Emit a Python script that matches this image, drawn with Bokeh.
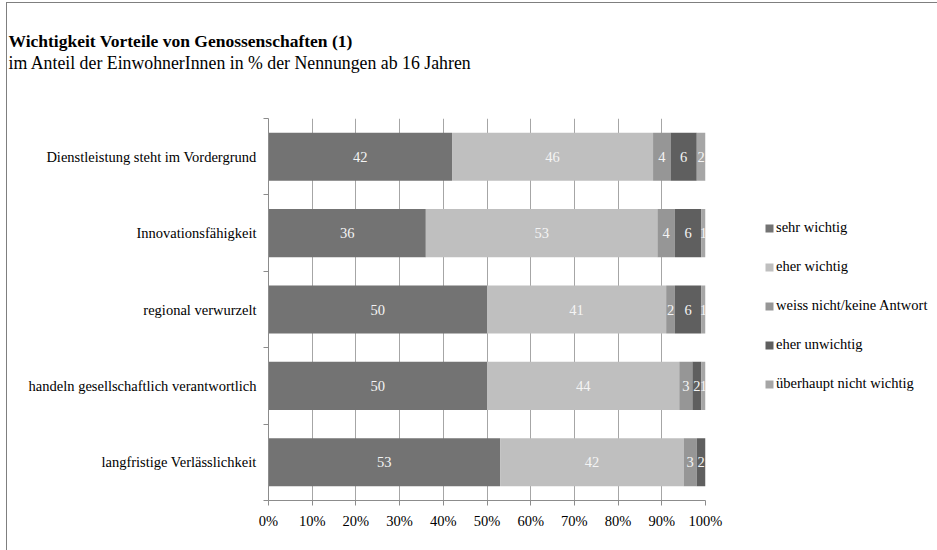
from bokeh.plotting import figure
from bokeh.models import (Range1d, FixedTicker, Legend, LegendItem, Title,
                          ColumnDataSource, LinearAxis, Grid)
from bokeh.core.properties import value
from bokeh.embed import file_html
from bokeh.resources import INLINE
import numpy as np

title = "Wichtigkeit Vorteile von Genossenschaften (1)"
subtitle = "im Anteil der EinwohnerInnen in % der Nennungen ab 16 Jahren"

categories = [
    "Dienstleistung steht im Vordergrund",
    "Innovationsfähigkeit",
    "regional verwurzelt",
    "handeln gesellschaftlich verantwortlich",
    "langfristige Verlässlichkeit",
]
series = ["sehr wichtig", "eher wichtig", "weiss nicht/keine Antwort",
          "eher unwichtig", "überhaupt nicht wichtig"]
sehr_wichtig = [42, 36, 50, 50, 53]
eher_wichtig = [46, 53, 41, 44, 42]
weiss_nicht = [4, 4, 2, 3, 3]
eher_unwichtig = [6, 6, 6, 2, 2]
ueberhaupt_nicht = [2, 1, 1, 1, 0]
x_ticks = [0, 10, 20, 30, 40, 50, 60, 70, 80, 90, 100]
x_tick_labels = ["0%", "10%", "20%", "30%", "40%", "50%", "60%", "70%", "80%", "90%", "100%"]

colors = ["#737373", "#bfbfbf", "#969696", "#5f5f5f", "#a6a6a6"]
FONT = "Liberation Serif"
FS = "14.5px"

OX, OY = 7, 3            # outer frame offset (margin + border)
W, H = 937 - OX, 550 - OY
L, R, T, B = 268 - OX, 705 - OX, 118 - OY, 500 - OY

p = figure(output_backend="svg", toolbar_location=None,
           frame_width=R - L, frame_height=B - T,
           x_range=Range1d(0, 100), y_range=Range1d(len(categories), 0),
           min_border_left=L, min_border_right=W - R, min_border_top=T,
           min_border_bottom=H - B, x_axis_location=None, y_axis_location=None,
           title=title)
p.styles = {"margin-left": "6px", "margin-top": "2px",
            "border-left": "1px solid #7f7f7f", "border-top": "1px solid #7f7f7f"}
p.outline_line_color = None
p.background_fill_color = "white"
p.border_fill_color = "white"

ypos = [i + 0.5 for i in range(len(categories))]
values = [sehr_wichtig, eher_wichtig, weiss_nicht, eher_unwichtig, ueberhaupt_nicht]
arr = np.array(values, dtype=float)
lefts = np.vstack([np.zeros(arr.shape[1]), np.cumsum(arr, axis=0)[:-1]])
rights = lefts + arr

renderers = []
for k, name in enumerate(series):
    src = ColumnDataSource(dict(y=ypos, left=lefts[k], right=rights[k], v=arr[k]))
    r = p.hbar(y="y", left="left", right="right", height=0.63, source=src,
               fill_color=colors[k], line_color=None)
    renderers.append(r)
    mask = arr[k] > 0
    tsrc = ColumnDataSource(dict(x=((lefts[k] + rights[k]) / 2)[mask],
                                 y=np.array(ypos)[mask],
                                 t=[str(int(v)) for v in arr[k][mask]]))
    p.text(x="x", y="y", text="t", source=tsrc, text_align="center",
           text_baseline="middle", text_color="#f4f4f4",
           text_font=value(FONT), text_font_size=FS)

# axes
xaxis = LinearAxis(ticker=FixedTicker(ticks=x_ticks),
                   major_label_overrides={t: s for t, s in zip(x_ticks, x_tick_labels)})
xaxis.axis_line_color = "#8c8c8c"
xaxis.major_tick_line_color = "#8c8c8c"
xaxis.major_tick_in = 0
xaxis.major_tick_out = 5
xaxis.minor_tick_line_color = None
xaxis.major_label_text_font = FONT
xaxis.major_label_text_font_size = FS
xaxis.major_label_text_color = "#000000"
xaxis.major_label_standoff = 7
p.add_layout(xaxis, "below")

boundaries = list(range(len(categories) + 1))
yaxis = LinearAxis(ticker=FixedTicker(ticks=ypos, minor_ticks=boundaries),
                   major_label_overrides={y: c for y, c in zip(ypos, categories)})
yaxis.axis_line_color = "#8c8c8c"
yaxis.major_tick_line_color = None
yaxis.major_tick_in = 0
yaxis.major_tick_out = 0
yaxis.minor_tick_line_color = "#8c8c8c"
yaxis.minor_tick_in = 0
yaxis.minor_tick_out = 5
yaxis.major_label_text_font = FONT
yaxis.major_label_text_font_size = FS
yaxis.major_label_text_color = "#000000"
yaxis.major_label_standoff = 7
p.add_layout(yaxis, "left")

p.xgrid.visible = False
p.ygrid.visible = False
vgrid = Grid(dimension=0, ticker=FixedTicker(ticks=x_ticks),
             grid_line_color="#a6a6a6", grid_line_width=1, level="underlay")
p.add_layout(vgrid)

legend = Legend(items=[LegendItem(label=s, renderers=[r]) for s, r in zip(series, renderers)],
                location=(59, 106), orientation="vertical",
                label_text_font=FONT, label_text_font_size=FS,
                label_text_color="#000000", glyph_width=10, glyph_height=10,
                label_height=21, spacing=18, padding=0, margin=0,
                label_standoff=2, border_line_color=None,
                background_fill_alpha=0)
p.add_layout(legend, "right")

# titles: spacer nearest the frame, then subtitle, main title outermost
p.add_layout(Title(text=" ", text_font_size="1px", standoff=43), "above")
p.add_layout(Title(text=subtitle, align="left", offset=-(L - 1), text_font=FONT,
                   text_font_size="17.8px", text_font_style="normal",
                   text_color="#000000", standoff=0), "above")
p.title.align = "left"
p.title.offset = -(L - 1)
p.title.text_font = FONT
p.title.text_font_size = "17.5px"
p.title.text_font_style = "bold"
p.title.text_color = "#000000"
p.title.standoff = 0

open("out.html", "w").write(file_html(p, INLINE))
